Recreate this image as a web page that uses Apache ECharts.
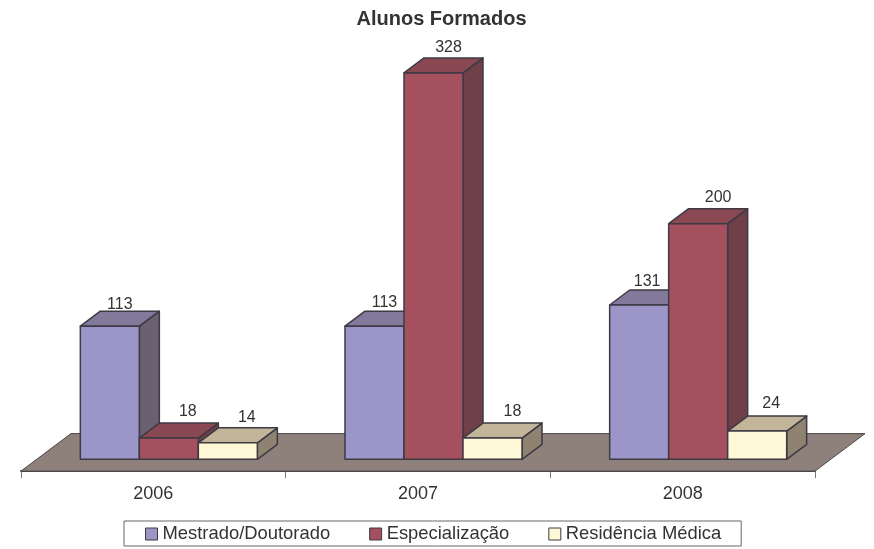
<!DOCTYPE html>
<html>
<head>
<meta charset="utf-8">
<title>Alunos Formados</title>
<script src="https://cdn.jsdelivr.net/npm/echarts@6/dist/echarts.min.js"></script>
<style>
  html, body { margin: 0; padding: 0; background: #fff; }
  #chart { width: 874px; height: 549px; }
</style>
</head>
<body>
<div id="chart"></div>
<script>
const years = ['2006', '2007', '2008']
const mestrado = [113, 113, 131]
const especializacao = [18, 328, 200]
const residencia = [14, 18, 24]

// hand placed data labels in the original: [dx, dy] from the back edge of the bar top
const labelNudge = [
  [[10, -7], [10, -9], [8, -8]],
  [[19, -12], [15, -10], [20, -11]],
  [[19, -10], [20, -12], [14, -12]]
]

const FONT = '"Liberation Sans", Arial, sans-serif'
const EDGE = '#3d3a44'
const BAR_WIDTH = 59
const DEPTH_X = 20
const DEPTH_Y = 15
const FLOOR_X = 50
const FLOOR_Y = 37.5
const GROUP_SHIFT = 15.5

const palette = [
  { front: '#9c95c8', top: '#837a9b', side: '#6b5f72' },
  { front: '#a5505f', top: '#8a4852', side: '#6f4048' },
  { front: '#fff8d6', top: '#c2b59a', side: '#8f8270' }
]

const poly = (points, fill) => ({
  type: 'polygon',
  shape: { points },
  style: { fill, stroke: EDGE, lineWidth: 1.5, lineJoin: 'round' }
})

const renderBar = (seriesIdx) => (params, api) => {
  const cat = api.value(0)
  const val = api.value(1)
  const [cx, top] = api.coord([cat, val])
  const [, base] = api.coord([cat, 0])
  const x0 = cx + GROUP_SHIFT + (seriesIdx - 1.5) * BAR_WIDTH
  const x1 = x0 + BAR_WIDTH
  const c = palette[seriesIdx]
  const nudge = labelNudge[seriesIdx][params.dataIndex]
  return {
    type: 'group',
    children: [
      poly([[x1, top], [x1 + DEPTH_X, top - DEPTH_Y], [x1 + DEPTH_X, base - DEPTH_Y], [x1, base]], c.side),
      poly([[x0, top], [x0 + DEPTH_X, top - DEPTH_Y], [x1 + DEPTH_X, top - DEPTH_Y], [x1, top]], c.top),
      poly([[x0, top], [x1, top], [x1, base], [x0, base]], c.front),
      {
        type: 'text',
        z2: 10,
        style: {
          text: String(val),
          x: (x0 + x1) / 2 + nudge[0],
          y: top - DEPTH_Y + nudge[1],
          align: 'center',
          verticalAlign: 'middle',
          fill: '#333',
          font: '16px ' + FONT
        }
      }
    ]
  }
}

const renderFloor = (params, api) => {
  const g = params.coordSys
  const bottom = g.y + g.height
  return {
    type: 'polygon',
    shape: {
      points: [
        [g.x, bottom],
        [g.x + FLOOR_X, bottom - FLOOR_Y],
        [g.x + g.width + FLOOR_X, bottom - FLOOR_Y],
        [g.x + g.width, bottom]
      ]
    },
    style: { fill: '#8e807a', stroke: '#4a4648', lineWidth: 1 }
  }
}

const barSeries = (name, values, idx) => ({
  name,
  type: 'custom',
  coordinateSystem: 'cartesian2d',
  renderItem: renderBar(idx),
  itemStyle: { color: palette[idx].front, borderColor: EDGE, borderWidth: 1 },
  encode: { x: 0, y: 1 },
  data: values.map((v, i) => [i, v]),
  z: 3 + idx
})

const chart = echarts.init(document.getElementById('chart'), null, { renderer: 'canvas' })

chart.setOption({
  animation: false,
  backgroundColor: '#fff',
  title: {
    text: 'Alunos Formados',
    left: 436.5,
    top: 4,
    textAlign: 'center',
    textStyle: { fontFamily: FONT, fontSize: 20, fontWeight: 'bold', color: '#333' }
  },
  legend: {
    left: 124,
    top: 521,
    padding: [4, 20, 3, 21],
    itemGap: 39,
    itemWidth: 12,
    itemHeight: 12,
    icon: 'rect',
    itemStyle: { borderColor: EDGE, borderWidth: 1 },
    borderColor: '#666',
    borderWidth: 1,
    backgroundColor: '#fff',
    selectedMode: false,
    data: ['Mestrado/Doutorado', 'Especialização', 'Residência Médica'],
    textStyle: { fontFamily: FONT, fontSize: 18.4, color: '#333', padding: [0, 0, 0, 0] }
  },
  grid: { left: 21, width: 794, top: 58.8, height: 412.3, containLabel: false },
  xAxis: {
    type: 'category',
    data: years,
    axisLine: { show: true, onZero: false, lineStyle: { color: '#4a4648', width: 2 } },
    axisTick: { show: true, length: 7, lineStyle: { color: '#777', width: 1 } },
    axisLabel: { fontFamily: FONT, fontSize: 18, color: '#333', margin: 14 }
  },
  yAxis: {
    type: 'value',
    min: -10,
    max: 340,
    show: false,
    splitLine: { show: false }
  },
  series: [
    {
      name: 'floor',
      type: 'custom',
      renderItem: renderFloor,
      data: [[0, 0]],
      encode: { x: 0, y: 1 },
      silent: true,
      z: 1
    },
    barSeries('Mestrado/Doutorado', mestrado, 0),
    barSeries('Especialização', especializacao, 1),
    barSeries('Residência Médica', residencia, 2)
  ]
})

window.addEventListener('resize', () => chart.resize())
</script>
</body>
</html>
